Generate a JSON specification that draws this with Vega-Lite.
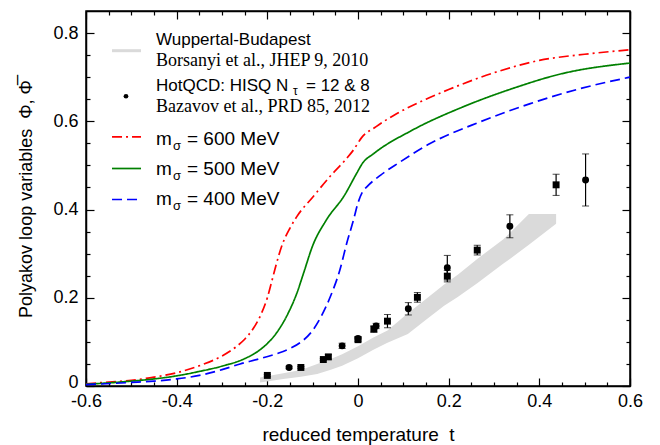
{
  "$schema": "https://vega.github.io/schema/vega-lite/v6.json",
  "width": 544,
  "height": 375,
  "autosize": "none",
  "padding": {"left": 86, "top": 11, "right": 30, "bottom": 59},
  "background": "white",
  "config": {
    "font": "Liberation Sans",
    "view": {"stroke": "black", "strokeWidth": 1.5},
    "axis": {"labelColor": "black", "titleColor": "black", "tickColor": "black", "domainColor": "black", "grid": false, "labelFont": "Liberation Sans", "titleFont": "Liberation Sans", "domainWidth": 1.5, "tickWidth": 1.2}
  },
  "datasets": {
    "band": [
      {"t": -0.216, "lo": 0.008, "hi": 0.019},
      {"t": -0.165, "lo": 0.016, "hi": 0.029},
      {"t": -0.126, "lo": 0.021, "hi": 0.036},
      {"t": -0.09, "lo": 0.027, "hi": 0.05},
      {"t": -0.06, "lo": 0.037, "hi": 0.061},
      {"t": -0.035, "lo": 0.046, "hi": 0.072},
      {"t": 0.0, "lo": 0.063, "hi": 0.09},
      {"t": 0.034, "lo": 0.082, "hi": 0.11},
      {"t": 0.065, "lo": 0.098, "hi": 0.126},
      {"t": 0.11, "lo": 0.118, "hi": 0.165},
      {"t": 0.15, "lo": 0.15, "hi": 0.197},
      {"t": 0.19, "lo": 0.182, "hi": 0.23},
      {"t": 0.22, "lo": 0.202, "hi": 0.252},
      {"t": 0.263, "lo": 0.233, "hi": 0.288},
      {"t": 0.32, "lo": 0.277, "hi": 0.332},
      {"t": 0.335, "lo": 0.288, "hi": 0.347},
      {"t": 0.377, "lo": 0.32, "hi": 0.39},
      {"t": 0.437, "lo": 0.368, "hi": 0.39}
    ],
    "curves": [
      {"m": "600", "t": -0.6, "v": 0.005}, {"m": "600", "t": -0.55, "v": 0.009}, {"m": "600", "t": -0.5, "v": 0.013}, {"m": "600", "t": -0.45, "v": 0.02}, {"m": "600", "t": -0.4, "v": 0.03}, {"m": "600", "t": -0.35, "v": 0.046}, {"m": "600", "t": -0.3, "v": 0.068}, {"m": "600", "t": -0.27, "v": 0.088}, {"m": "600", "t": -0.25, "v": 0.106}, {"m": "600", "t": -0.23, "v": 0.132}, {"m": "600", "t": -0.215, "v": 0.16}, {"m": "600", "t": -0.2, "v": 0.2}, {"m": "600", "t": -0.19, "v": 0.238}, {"m": "600", "t": -0.18, "v": 0.277}, {"m": "600", "t": -0.168, "v": 0.318}, {"m": "600", "t": -0.15, "v": 0.358}, {"m": "600", "t": -0.135, "v": 0.384}, {"m": "600", "t": -0.1, "v": 0.428}, {"m": "600", "t": -0.06, "v": 0.477}, {"m": "600", "t": -0.03, "v": 0.51}, {"m": "600", "t": -0.01, "v": 0.535}, {"m": "600", "t": 0.008, "v": 0.563}, {"m": "600", "t": 0.04, "v": 0.588}, {"m": "600", "t": 0.085, "v": 0.617}, {"m": "600", "t": 0.15, "v": 0.65}, {"m": "600", "t": 0.2, "v": 0.672}, {"m": "600", "t": 0.3, "v": 0.71}, {"m": "600", "t": 0.4, "v": 0.738}, {"m": "600", "t": 0.5, "v": 0.752}, {"m": "600", "t": 0.6, "v": 0.762},
      {"m": "500", "t": -0.6, "v": 0.004}, {"m": "500", "t": -0.55, "v": 0.007}, {"m": "500", "t": -0.5, "v": 0.011}, {"m": "500", "t": -0.45, "v": 0.016}, {"m": "500", "t": -0.4, "v": 0.023}, {"m": "500", "t": -0.35, "v": 0.033}, {"m": "500", "t": -0.3, "v": 0.045}, {"m": "500", "t": -0.25, "v": 0.062}, {"m": "500", "t": -0.215, "v": 0.083}, {"m": "500", "t": -0.18, "v": 0.12}, {"m": "500", "t": -0.155, "v": 0.163}, {"m": "500", "t": -0.135, "v": 0.21}, {"m": "500", "t": -0.12, "v": 0.256}, {"m": "500", "t": -0.1, "v": 0.318}, {"m": "500", "t": -0.07, "v": 0.376}, {"m": "500", "t": -0.03, "v": 0.432}, {"m": "500", "t": -0.003, "v": 0.482}, {"m": "500", "t": 0.01, "v": 0.505}, {"m": "500", "t": 0.035, "v": 0.527}, {"m": "500", "t": 0.12, "v": 0.58}, {"m": "500", "t": 0.23, "v": 0.632}, {"m": "500", "t": 0.34, "v": 0.674}, {"m": "500", "t": 0.45, "v": 0.708}, {"m": "500", "t": 0.6, "v": 0.732},
      {"m": "400", "t": -0.6, "v": 0.003}, {"m": "400", "t": -0.5, "v": 0.008}, {"m": "400", "t": -0.45, "v": 0.011}, {"m": "400", "t": -0.4, "v": 0.016}, {"m": "400", "t": -0.35, "v": 0.024}, {"m": "400", "t": -0.3, "v": 0.037}, {"m": "400", "t": -0.26, "v": 0.05}, {"m": "400", "t": -0.22, "v": 0.061}, {"m": "400", "t": -0.18, "v": 0.073}, {"m": "400", "t": -0.15, "v": 0.085}, {"m": "400", "t": -0.128, "v": 0.098}, {"m": "400", "t": -0.1, "v": 0.126}, {"m": "400", "t": -0.08, "v": 0.16}, {"m": "400", "t": -0.06, "v": 0.205}, {"m": "400", "t": -0.04, "v": 0.263}, {"m": "400", "t": -0.025, "v": 0.323}, {"m": "400", "t": -0.01, "v": 0.376}, {"m": "400", "t": 0.0, "v": 0.415}, {"m": "400", "t": 0.01, "v": 0.44}, {"m": "400", "t": 0.02, "v": 0.452}, {"m": "400", "t": 0.05, "v": 0.478}, {"m": "400", "t": 0.09, "v": 0.506}, {"m": "400", "t": 0.16, "v": 0.55}, {"m": "400", "t": 0.27, "v": 0.599}, {"m": "400", "t": 0.38, "v": 0.64}, {"m": "400", "t": 0.49, "v": 0.674}, {"m": "400", "t": 0.6, "v": 0.7}
    ],
    "pts": [
      {"set": "Nt12", "t": -0.152, "v": 0.042, "lo": 0.039, "hi": 0.045},
      {"set": "Nt12", "t": -0.035, "v": 0.091, "lo": 0.085, "hi": 0.097},
      {"set": "Nt12", "t": 0.0, "v": 0.108, "lo": 0.104, "hi": 0.112},
      {"set": "Nt12", "t": 0.04, "v": 0.136, "lo": 0.13, "hi": 0.142},
      {"set": "Nt12", "t": 0.111, "v": 0.175, "lo": 0.161, "hi": 0.189},
      {"set": "Nt12", "t": 0.197, "v": 0.268, "lo": 0.24, "hi": 0.296},
      {"set": "Nt12", "t": 0.335, "v": 0.362, "lo": 0.336, "hi": 0.388},
      {"set": "Nt12", "t": 0.502, "v": 0.467, "lo": 0.408, "hi": 0.526},
      {"set": "Nt8", "t": -0.2, "v": 0.024, "lo": 0.022, "hi": 0.026},
      {"set": "Nt8", "t": -0.126, "v": 0.042, "lo": 0.04, "hi": 0.044},
      {"set": "Nt8", "t": -0.0765, "v": 0.06, "lo": 0.058, "hi": 0.062},
      {"set": "Nt8", "t": -0.0654, "v": 0.066, "lo": 0.061, "hi": 0.071},
      {"set": "Nt8", "t": 0.0, "v": 0.105, "lo": 0.101, "hi": 0.109},
      {"set": "Nt8", "t": 0.035, "v": 0.129, "lo": 0.122, "hi": 0.136},
      {"set": "Nt8", "t": 0.065, "v": 0.147, "lo": 0.132, "hi": 0.162},
      {"set": "Nt8", "t": 0.131, "v": 0.201, "lo": 0.19, "hi": 0.212},
      {"set": "Nt8", "t": 0.197, "v": 0.249, "lo": 0.236, "hi": 0.262},
      {"set": "Nt8", "t": 0.263, "v": 0.308, "lo": 0.297, "hi": 0.319},
      {"set": "Nt8", "t": 0.437, "v": 0.456, "lo": 0.432, "hi": 0.48}
    ]
  },
  "resolve": {"axis": {"x": "independent", "y": "independent"}},
  "layer": [
    {
      "data": {"name": "band"},
      "mark": {"type": "area", "color": "#dadada", "opacity": 1},
      "encoding": {
        "x": {"field": "t", "type": "quantitative", "scale": {"domain": [-0.6, 0.6], "nice": false, "zero": false},
          "axis": {"orient": "bottom", "values": [-0.6,-0.55,-0.5,-0.45,-0.4,-0.35,-0.3,-0.25,-0.2,-0.15,-0.1,-0.05,0,0.05,0.1,0.15,0.2,0.25,0.3,0.35,0.4,0.45,0.5,0.55,0.6],
            "tickSize": {"condition": {"test": "abs(round(datum.value*100)) % 20 == 0", "value": -8}, "value": -4},
            "labelExpr": "abs(round(datum.value*100)) % 20 == 0 ? (datum.value == 0 ? '0' : (datum.value < 0 ? '-' : '') + format(abs(datum.value), '.1f')) : ''",
            "labelPadding": 14, "labelFontSize": 18, "labelOverlap": false, "labelFlush": false, "labelBound": false,
            "title": "reduced temperature\u00a0\u00a0t", "titleFontSize": 19, "titleFontWeight": "normal", "titlePadding": 11}},
        "y": {"field": "lo", "type": "quantitative", "scale": {"domain": [0, 0.85], "nice": false, "zero": false},
          "axis": {"orient": "left", "values": [0,0.05,0.1,0.15,0.2,0.25,0.3,0.35,0.4,0.45,0.5,0.55,0.6,0.65,0.7,0.75,0.8],
            "tickSize": {"condition": {"test": "abs(round(datum.value*100)) % 20 == 0", "value": -8}, "value": -4},
            "labelExpr": "abs(round(datum.value*100)) % 20 == 0 ? (datum.value == 0 ? '0' : format(datum.value, '.1f')) : ''",
            "labelOffset": {"condition": {"test": "datum.value == 0", "value": -4}, "value": 0},
            "labelPadding": 16, "labelFontSize": 18, "labelOverlap": false, "labelFlush": false, "labelBound": false,
            "title": "Polyakov loop variables\u00a0\u00a0\u03a6, \u03a6\u0305", "titleFontSize": 18, "titleFontWeight": "normal", "titlePadding": 17}},
        "y2": {"field": "hi"}
      }
    },
    {
      "data": {"name": "curves"},
      "mark": {"type": "line", "strokeWidth": 1.7, "interpolate": "monotone"},
      "encoding": {
        "x": {"field": "t", "type": "quantitative", "scale": {"domain": [-0.6, 0.6], "nice": false, "zero": false},
          "axis": {"orient": "top", "values": [-0.6,-0.55,-0.5,-0.45,-0.4,-0.35,-0.3,-0.25,-0.2,-0.15,-0.1,-0.05,0,0.05,0.1,0.15,0.2,0.25,0.3,0.35,0.4,0.45,0.5,0.55,0.6],
            "tickSize": {"condition": {"test": "abs(round(datum.value*100)) % 20 == 0", "value": -8}, "value": -4},
            "labels": false, "title": null}},
        "y": {"field": "v", "type": "quantitative", "scale": {"domain": [0, 0.85], "nice": false, "zero": false},
          "axis": {"orient": "right", "values": [0,0.05,0.1,0.15,0.2,0.25,0.3,0.35,0.4,0.45,0.5,0.55,0.6,0.65,0.7,0.75,0.8],
            "tickSize": {"condition": {"test": "abs(round(datum.value*100)) % 20 == 0", "value": -8}, "value": -4},
            "labels": false, "title": null}},
        "color": {"field": "m", "type": "nominal", "scale": {"domain": ["600", "500", "400"], "range": ["#ff0000", "#008000", "#0000ff"]}, "legend": null},
        "strokeDash": {"field": "m", "type": "nominal", "scale": {"domain": ["600", "500", "400"], "range": [[10, 4, 2, 4], [1, 0], [10, 5]]}, "legend": null},
        "order": {"field": "t", "type": "quantitative"}
      }
    },
    {
      "data": {"name": "pts"},
      "mark": {"type": "errorbar", "color": "black", "ticks": {"size": 7, "color": "black"}, "rule": {"strokeWidth": 1.2}},
      "encoding": {
        "x": {"field": "t", "type": "quantitative", "axis": null},
        "y": {"field": "lo", "type": "quantitative", "axis": null},
        "y2": {"field": "hi"}
      }
    },
    {
      "data": {"name": "pts"},
      "mark": {"type": "point", "filled": true, "color": "black", "opacity": 1, "size": 48},
      "encoding": {
        "x": {"field": "t", "type": "quantitative", "axis": null},
        "y": {"field": "v", "type": "quantitative", "axis": null},
        "shape": {"field": "set", "type": "nominal", "scale": {"domain": ["Nt12", "Nt8"], "range": ["circle", "square"]}, "legend": null}
      }
    },
    {
      "data": {"values": [{}]},
      "mark": {"type": "rule", "color": "#dadada", "strokeWidth": 3},
      "encoding": {"x": {"datum": -0.5426, "type": "quantitative", "axis": null}, "x2": {"datum": -0.4787}, "y": {"datum": 0.76, "type": "quantitative", "axis": null}}
    },
    {
      "data": {"values": [{}]},
      "mark": {"type": "text", "text": "Wuppertal-Budapest", "align": "left", "baseline": "alphabetic", "font": "Liberation Sans", "fontSize": 17, "color": "black"},
      "encoding": {"x": {"datum": -0.4456, "type": "quantitative", "axis": null}, "y": {"datum": 0.7729, "type": "quantitative", "axis": null}}
    },
    {
      "data": {"values": [{}]},
      "mark": {"type": "text", "text": "Borsanyi et al., JHEP 9, 2010", "align": "left", "baseline": "alphabetic", "font": "Liberation Serif", "fontSize": 18, "color": "black"},
      "encoding": {"x": {"datum": -0.4456, "type": "quantitative", "axis": null}, "y": {"datum": 0.726, "type": "quantitative", "axis": null}}
    },
    {
      "data": {"values": [{}]},
      "mark": {"type": "point", "shape": "circle", "filled": true, "color": "black", "opacity": 1, "size": 22},
      "encoding": {"x": {"datum": -0.5118, "type": "quantitative", "axis": null}, "y": {"datum": 0.6567, "type": "quantitative", "axis": null}}
    },
    {
      "data": {"values": [{}]},
      "mark": {"type": "text", "text": "HotQCD: HISQ N", "align": "left", "baseline": "alphabetic", "font": "Liberation Sans", "fontSize": 17, "color": "black"},
      "encoding": {"x": {"datum": -0.4456, "type": "quantitative", "axis": null}, "y": {"datum": 0.6694, "type": "quantitative", "axis": null}}
    },
    {
      "data": {"values": [{}]},
      "mark": {"type": "text", "text": "\u03c4", "align": "left", "baseline": "alphabetic", "font": "Liberation Sans", "fontSize": 12, "color": "black", "dx": 137, "dy": 4},
      "encoding": {"x": {"datum": -0.4456, "type": "quantitative", "axis": null}, "y": {"datum": 0.6694, "type": "quantitative", "axis": null}}
    },
    {
      "data": {"values": [{}]},
      "mark": {"type": "text", "text": "= 12 & 8", "align": "left", "baseline": "alphabetic", "font": "Liberation Sans", "fontSize": 17, "color": "black", "dx": 150},
      "encoding": {"x": {"datum": -0.4456, "type": "quantitative", "axis": null}, "y": {"datum": 0.6694, "type": "quantitative", "axis": null}}
    },
    {
      "data": {"values": [{}]},
      "mark": {"type": "text", "text": "Bazavov et al., PRD 85, 2012", "align": "left", "baseline": "alphabetic", "font": "Liberation Serif", "fontSize": 18, "color": "black"},
      "encoding": {"x": {"datum": -0.4456, "type": "quantitative", "axis": null}, "y": {"datum": 0.6218, "type": "quantitative", "axis": null}}
    },
    {
      "data": {"values": [{}]},
      "mark": {"type": "rule", "color": "#ff0000", "strokeWidth": 1.7, "strokeDash": [10, 4, 2, 4]},
      "encoding": {"x": {"datum": -0.5426, "type": "quantitative", "axis": null}, "x2": {"datum": -0.4787}, "y": {"datum": 0.5645, "type": "quantitative", "axis": null}}
    },
    {
      "data": {"values": [{}]},
      "mark": {"type": "rule", "color": "#008000", "strokeWidth": 1.7},
      "encoding": {"x": {"datum": -0.5426, "type": "quantitative", "axis": null}, "x2": {"datum": -0.4787}, "y": {"datum": 0.493, "type": "quantitative", "axis": null}}
    },
    {
      "data": {"values": [{}]},
      "mark": {"type": "rule", "color": "#0000ff", "strokeWidth": 1.7, "strokeDash": [10, 5]},
      "encoding": {"x": {"datum": -0.5426, "type": "quantitative", "axis": null}, "x2": {"datum": -0.4787}, "y": {"datum": 0.4227, "type": "quantitative", "axis": null}}
    },
    {
      "data": {"values": [{}]},
      "mark": {"type": "text", "text": "m", "align": "left", "baseline": "alphabetic", "font": "Liberation Sans", "fontSize": 19, "color": "black"},
      "encoding": {"x": {"datum": -0.4456, "type": "quantitative", "axis": null}, "y": {"datum": 0.5474, "type": "quantitative", "axis": null}}
    },
    {
      "data": {"values": [{}]},
      "mark": {"type": "text", "text": "\u03c3", "align": "left", "baseline": "alphabetic", "font": "Liberation Sans", "fontSize": 13, "color": "black", "dx": 17, "dy": 5},
      "encoding": {"x": {"datum": -0.4456, "type": "quantitative", "axis": null}, "y": {"datum": 0.5474, "type": "quantitative", "axis": null}}
    },
    {
      "data": {"values": [{}]},
      "mark": {"type": "text", "text": "= 600 MeV", "align": "left", "baseline": "alphabetic", "font": "Liberation Sans", "fontSize": 19, "color": "black", "dx": 31},
      "encoding": {"x": {"datum": -0.4456, "type": "quantitative", "axis": null}, "y": {"datum": 0.5474, "type": "quantitative", "axis": null}}
    },
    {
      "data": {"values": [{}]},
      "mark": {"type": "text", "text": "m", "align": "left", "baseline": "alphabetic", "font": "Liberation Sans", "fontSize": 19, "color": "black"},
      "encoding": {"x": {"datum": -0.4456, "type": "quantitative", "axis": null}, "y": {"datum": 0.4783, "type": "quantitative", "axis": null}}
    },
    {
      "data": {"values": [{}]},
      "mark": {"type": "text", "text": "\u03c3", "align": "left", "baseline": "alphabetic", "font": "Liberation Sans", "fontSize": 13, "color": "black", "dx": 17, "dy": 5},
      "encoding": {"x": {"datum": -0.4456, "type": "quantitative", "axis": null}, "y": {"datum": 0.4783, "type": "quantitative", "axis": null}}
    },
    {
      "data": {"values": [{}]},
      "mark": {"type": "text", "text": "= 500 MeV", "align": "left", "baseline": "alphabetic", "font": "Liberation Sans", "fontSize": 19, "color": "black", "dx": 31},
      "encoding": {"x": {"datum": -0.4456, "type": "quantitative", "axis": null}, "y": {"datum": 0.4783, "type": "quantitative", "axis": null}}
    },
    {
      "data": {"values": [{}]},
      "mark": {"type": "text", "text": "m", "align": "left", "baseline": "alphabetic", "font": "Liberation Sans", "fontSize": 19, "color": "black"},
      "encoding": {"x": {"datum": -0.4456, "type": "quantitative", "axis": null}, "y": {"datum": 0.4114, "type": "quantitative", "axis": null}}
    },
    {
      "data": {"values": [{}]},
      "mark": {"type": "text", "text": "\u03c3", "align": "left", "baseline": "alphabetic", "font": "Liberation Sans", "fontSize": 13, "color": "black", "dx": 17, "dy": 5},
      "encoding": {"x": {"datum": -0.4456, "type": "quantitative", "axis": null}, "y": {"datum": 0.4114, "type": "quantitative", "axis": null}}
    },
    {
      "data": {"values": [{}]},
      "mark": {"type": "text", "text": "= 400 MeV", "align": "left", "baseline": "alphabetic", "font": "Liberation Sans", "fontSize": 19, "color": "black", "dx": 31},
      "encoding": {"x": {"datum": -0.4456, "type": "quantitative", "axis": null}, "y": {"datum": 0.4114, "type": "quantitative", "axis": null}}
    }
  ]
}
